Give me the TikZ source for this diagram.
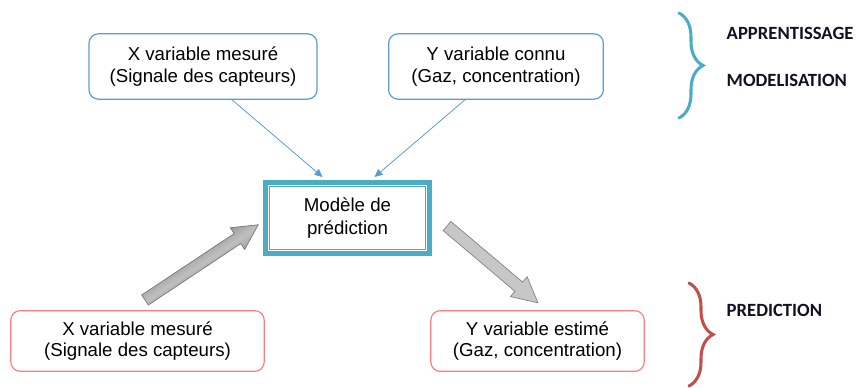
\documentclass[tikz,border=0pt]{standalone}
\usepackage{fontspec}
\setmainfont{Liberation Sans}
\newfontfamily\tagfont{Carlito}
\usetikzlibrary{arrows.meta,positioning,calc,decorations.pathreplacing}

\definecolor{boxblue}{HTML}{5B9BD5}
\definecolor{boxred}{HTML}{FF7C80}
\definecolor{modelteal}{HTML}{4BACC6}
\definecolor{bracered}{HTML}{C0504D}
\definecolor{tagnavy}{HTML}{111122}

\begin{document}
\begin{tikzpicture}[
    x=0.75pt, y=-0.75pt,
    inbox/.style={rectangle, draw=boxblue, line width=0.9pt, rounded corners=7pt, minimum height=49pt, align=center, font=\fontsize{14}{16}\selectfont},
    outbox/.style={rectangle, draw=boxred, line width=0.9pt, rounded corners=7pt, minimum height=45.5pt, align=center, font=\fontsize{14}{16}\selectfont},
    model/.style={rectangle, draw=modelteal, line width=3.5pt, minimum width=123pt, minimum height=53.5pt, align=center, font=\fontsize{14}{17}\selectfont},
    arrow/.style={-{Triangle[length=6pt,width=5.5pt]}, draw=boxblue, line width=0.6pt},
    bigarrow/.style={line width=0.5pt, line join=miter},
    brace/.style={decorate, decoration={brace, amplitude=18pt}, line width=2.3pt, line cap=round},
    tag/.style={anchor=west, text=tagnavy, font=\tagfont\bfseries\fontsize{14}{16}\selectfont}
]
\useasboundingbox (0,0) rectangle (863,387);

% Inputs: learning
\node[inbox, minimum width=171pt] (xin) at (203,66.5) {X variable mesuré\\(Signale des capteurs)};
\node[inbox, minimum width=161pt] (yin) at (496,66.5) {Y variable connu\\(Gaz, concentration)};

% Model
\node[model] (mdl) at (347.5,218) {Modèle de\\prédiction};
\draw[modelteal, line width=0.7pt] ($(mdl.north west)+(6.5,6.5)$) rectangle ($(mdl.south east)+(-6.5,-6.5)$);

% Prediction
\node[outbox, minimum width=190pt] (xout) at (137.5,341) {X variable mesuré\\(Signale des capteurs)};
\node[outbox, minimum width=160pt] (yout) at (537.5,341) {Y variable estimé\\(Gaz, concentration)};

% Arrows
\draw[arrow] ($(xin.south)+(29,0)$) -- ($(mdl.north)+(-25,-3)$);
\draw[arrow] ($(yin.south)+(-31,0)$) -- ($(mdl.north)+(27,-3)$);

\begin{scope}[shift={(145,300)}, rotate=33.6]
  \draw[bigarrow, draw=black!55, top color=black!70, bottom color=black!70, middle color=black!25, shading angle=33.6]
    (0,-6) -- (111,-6) -- (111,-13) -- (136,0) -- (111,13) -- (111,6) -- (0,6) -- cycle;
\end{scope}
\begin{scope}[shift={(447,226)}, rotate=-40.2]
  \draw[bigarrow, draw=black!50, fill=black!22]
    (0,-6) -- (94,-6) -- (94,-13) -- (119,0) -- (94,13) -- (94,6) -- (0,6) -- cycle;
\end{scope}

% Braces
\draw[brace, modelteal] (679,13) -- (679,118);
\draw[brace, bracered] (689,283) -- (689,386);

% Labels
\node[tag] (appr) at (722,33) {APPRENTISSAGE};
\node[tag] (modl) at (722,80) {MODELISATION};
\node[tag] (pred) at (722,310) {PREDICTION};
\end{tikzpicture}
\end{document}
